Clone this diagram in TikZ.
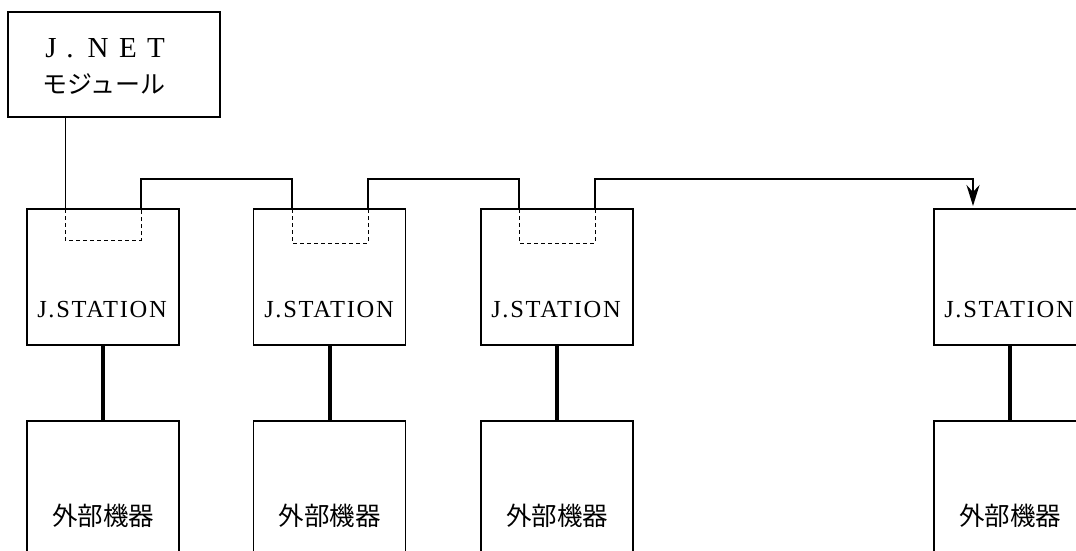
\documentclass[tikz,border=0pt]{standalone}
\usepackage{fontspec}
\setmainfont{Liberation Serif}
\newfontfamily\cjk{Noto Sans CJK JP}
\usetikzlibrary{arrows.meta}
\begin{document}
\begin{tikzpicture}[x=1pt,y=-1pt,
  box/.style={draw,line width=1.2pt,minimum width=152pt,inner sep=0pt},
  station/.style={box,minimum height=136pt},
  device/.style={box,minimum height=190pt,font=\cjk\fontsize{25.5}{28}\selectfont},
  stlabel/.style={anchor=base,inner sep=0pt,font=\fontsize{24.5}{28}\selectfont\addfontfeature{LetterSpace=7}},
  jlet/.style={anchor=base,inner sep=0pt,font=\fontsize{29}{32}\selectfont},
  bus/.style={line width=2pt},
  link/.style={line width=4pt},
  thin/.style={line width=1pt},
  portline/.style={line width=1pt,dash pattern=on 4pt off 3pt}]
\useasboundingbox (0,0) rectangle (1076,550);
\clip (0,0) rectangle (1076,550);
\fill[white] (0,0) rectangle (1076,550);

% J.NET module
\node[draw,line width=1.2pt,minimum width=212pt,minimum height=105pt,inner sep=0pt] (jnet) at (114,64.5) {};
\node[jlet] (jJ) at (51,57) {J};
\node[jlet] (jdot) at (70,57) {.};
\node[jlet] (jN) at (98,57) {N};
\node[jlet] (jE) at (128,57) {E};
\node[jlet] (jT) at (156,57) {T};
\node[inner sep=0pt,font=\cjk\fontsize{25}{28}\selectfont] (jmod) at (104,84) {モジュール};

% stations
\node[station] (s1) at (103,277) {};
\node[station] (s2) at (329.5,277) {};
\node[station] (s3) at (557,277) {};
\node[station] (s4) at (1010,277) {};
\node[stlabel] (t1) at (102,317) {J.STATION};
\node[stlabel] (t2) at (329,317) {J.STATION};
\node[stlabel] (t3) at (556,317) {J.STATION};
\node[stlabel] (t4) at (1009,317) {J.STATION};

% devices
\node[device] (d1) at (103,516) {外部機器};
\node[device] (d2) at (329.5,516) {外部機器};
\node[device] (d3) at (557,516) {外部機器};
\node[device] (d4) at (1010,516) {外部機器};

% ports
\coordinate (p1in) at (65,209);
\coordinate (p1out) at (141,209);
\coordinate (p2in) at (292,209);
\coordinate (p2out) at (368,209);
\coordinate (p3in) at (519,209);
\coordinate (p3out) at (595,209);
\coordinate (p4in) at (973,209);

\draw[portline] (p1in) -- ++(0,31) -| (p1out);
\draw[portline] (p2in) -- ++(0,34) -| (p2out);
\draw[portline] (p3in) -- ++(0,34) -| (p3out);

% J.NET connection
\draw[thin] (jnet.south -| p1in) -- (p1in);

% bus
\draw[bus] (p1out) -- ++(0,-30) -| (p2in);
\draw[bus] (p2out) -- ++(0,-30) -| (p3in);
\draw[bus,-{Stealth[length=21pt,width=13pt,inset=7pt]}] (p3out) -- ++(0,-30) -| ([yshift=3pt]p4in);

% station to device links
\draw[link] (s1.south) -- (d1.north);
\draw[link] (s2.south) -- (d2.north);
\draw[link] (s3.south) -- (d3.north);
\draw[link] (s4.south) -- (d4.north);
\end{tikzpicture}
\end{document}
